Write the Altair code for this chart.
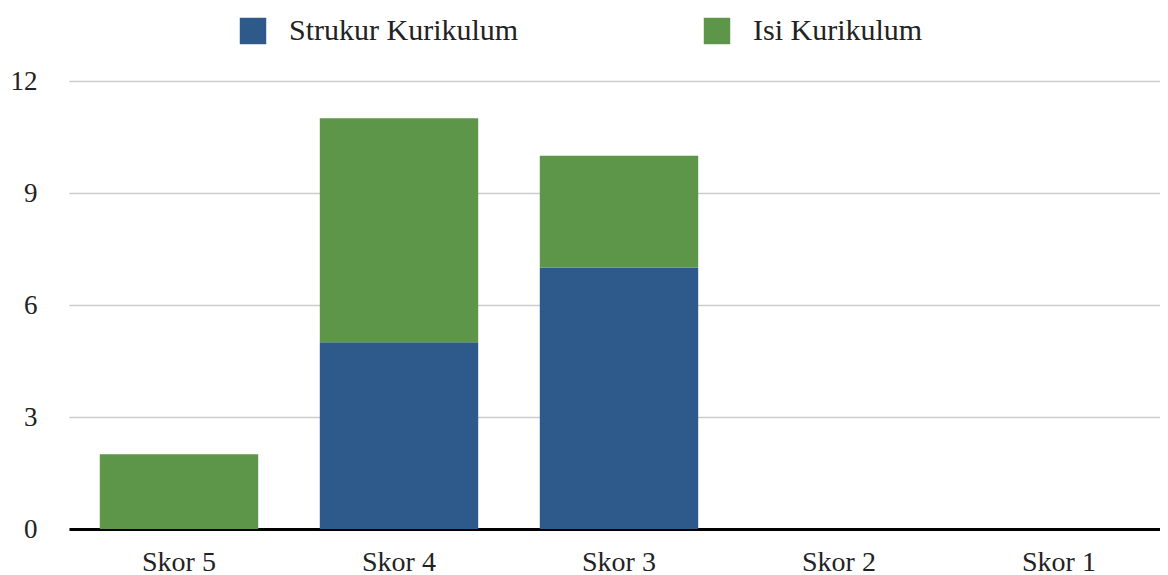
import altair as alt
import pandas as pd

categories = ["Skor 5", "Skor 4", "Skor 3", "Skor 2", "Skor 1"]
series = ["Strukur Kurikulum", "Isi Kurikulum"]
struktur = [0, 5, 7, 0, 0]
isi = [2, 6, 3, 0, 0]
colors = ["#2E5A8B", "#5D9648"]

rows = []
for c, a, b in zip(categories, struktur, isi):
    rows.append({"kategori": c, "seri": series[0], "nilai": a, "urut": 0})
    rows.append({"kategori": c, "seri": series[1], "nilai": b, "urut": 1})
df = pd.DataFrame(rows)

FONT = "Liberation Serif"

chart = alt.Chart(df).mark_bar().encode(
    x=alt.X("kategori:N", sort=categories, title=None,
            scale=alt.Scale(paddingInner=0.28, paddingOuter=0.14, range=[0, 1100]),
            axis=alt.Axis(labelAngle=0, labelFontSize=28, labelColor="#222",
                          labelPadding=19, ticks=False, domainColor="#000",
                          domainWidth=3, labelFont=FONT)),
    y=alt.Y("nilai:Q", stack="zero", title=None,
            scale=alt.Scale(domain=[0, 12], nice=False),
            axis=alt.Axis(values=[0, 3, 6, 9, 12], labelFontSize=27, labelColor="#222",
                          labelPadding=32, ticks=False, domain=False,
                          gridColor="#CCCCCC", gridWidth=1.5, labelFont=FONT)),
    color=alt.Color("seri:N", scale=alt.Scale(domain=series, range=colors),
                    legend=alt.Legend(title=None, orient="none", direction="horizontal",
                                      legendX=169, legendY=-65, symbolType="square",
                                      symbolSize=700, symbolStrokeWidth=0,
                                      labelFontSize=30, labelFont=FONT, labelColor="#222",
                                      labelOffset=21, columnPadding=183, labelLimit=400)),
    order=alt.Order("urut:Q"),
).properties(
    width=1091, height=448,
    autosize=alt.AutoSizeParams(type="none"),
    padding={"left": 61, "top": 73, "right": 0, "bottom": 46},
).configure_view(stroke=None).configure_axisX(grid=False)

chart.save("out.html", embed_options={"renderer": "svg", "actions": False})
